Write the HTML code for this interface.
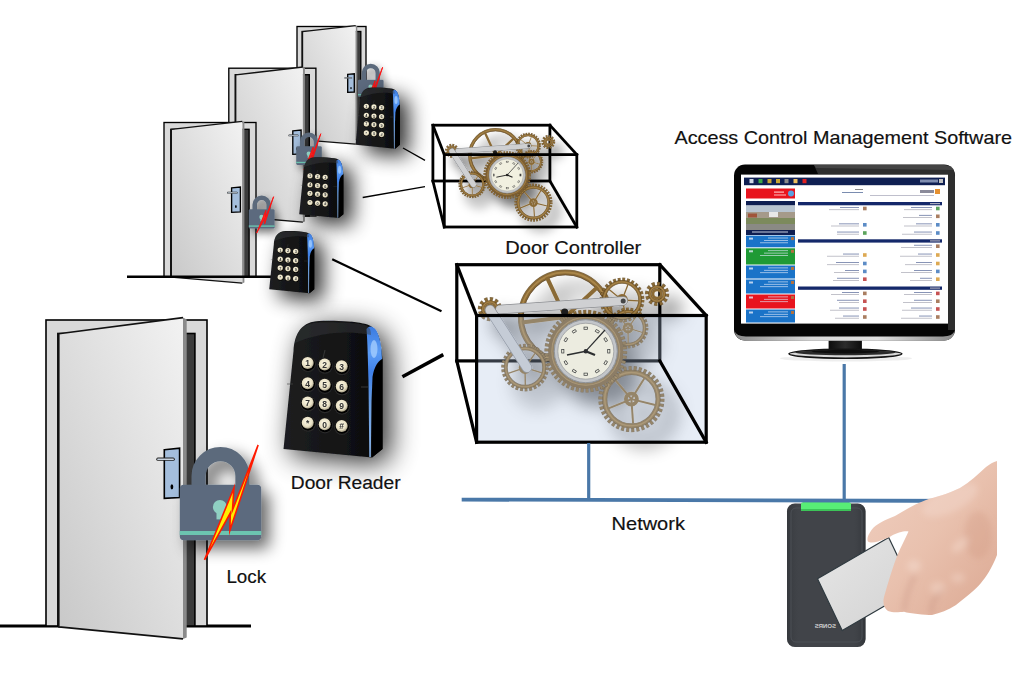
<!DOCTYPE html>
<html><head><meta charset="utf-8"><style>
html,body{margin:0;padding:0;background:#fff;}
body{width:1024px;height:684px;overflow:hidden;}
svg{display:block;}
text{font-family:"Liberation Sans",sans-serif;}
</style></head><body>
<svg width="1024" height="684" viewBox="0 0 1024 684">
<defs>
<linearGradient id="leafg" x1="0" y1="1" x2="1" y2="0">
<stop offset="0" stop-color="#c8c8c8"/><stop offset="1" stop-color="#f2f2f2"/>
</linearGradient>
<linearGradient id="blueg" x1="0" y1="0" x2="0" y2="1">
<stop offset="0" stop-color="#3a7ae0"/><stop offset="0.2" stop-color="#5b9cf5"/><stop offset="0.35" stop-color="#3f80e8"/><stop offset="0.6" stop-color="#6a9ee0"/><stop offset="1" stop-color="#8ab4e8"/>
</linearGradient>
<linearGradient id="rdrg" x1="0" y1="0" x2="1" y2="0">
<stop offset="0" stop-color="#1e1f21"/><stop offset="1" stop-color="#0b0b0c"/>
</linearGradient>
<radialGradient id="keyg" cx="0.45" cy="0.4" r="0.6">
<stop offset="0" stop-color="#fffbe8"/><stop offset="0.7" stop-color="#e8e0c4"/><stop offset="1" stop-color="#a8a088"/>
</radialGradient>
<linearGradient id="crg" x1="0" y1="0" x2="1" y2="0">
<stop offset="0" stop-color="#2c2f33" stop-opacity="0.6"/><stop offset="0.15" stop-color="#3a3d42" stop-opacity="0"/><stop offset="0.85" stop-color="#3a3d42" stop-opacity="0"/><stop offset="1" stop-color="#25282c" stop-opacity="0.6"/>
</linearGradient>
<linearGradient id="cardg" x1="0" y1="0" x2="1" y2="1">
<stop offset="0" stop-color="#e6e6e6"/><stop offset="1" stop-color="#d2d2d2"/>
</linearGradient>
<linearGradient id="skin" x1="0" y1="0" x2="1" y2="1">
<stop offset="0" stop-color="#f0cfc0"/><stop offset="0.5" stop-color="#e9c1ae"/><stop offset="1" stop-color="#dba892"/>
</linearGradient>
<linearGradient id="ching" x1="0" y1="0" x2="1" y2="0">
<stop offset="0" stop-color="#8a8a8a"/><stop offset="0.35" stop-color="#d8d8d8"/><stop offset="0.65" stop-color="#e0e0e0"/><stop offset="1" stop-color="#8a8a8a"/>
</linearGradient>
<linearGradient id="neckg" x1="0" y1="0" x2="1" y2="0">
<stop offset="0" stop-color="#0c0c0c"/><stop offset="0.5" stop-color="#2c2c2c"/><stop offset="1" stop-color="#0c0c0c"/>
</linearGradient>
<filter id="blur3" x="-20%" y="-20%" width="140%" height="140%"><feGaussianBlur stdDeviation="3"/></filter>
<filter id="shadowL" x="-50%" y="-50%" width="200%" height="200%">
<feGaussianBlur in="SourceAlpha" stdDeviation="4"/>
<feOffset dx="3" dy="4" result="b"/>
<feComponentTransfer><feFuncA type="linear" slope="0.55"/></feComponentTransfer>
<feMerge><feMergeNode/><feMergeNode in="SourceGraphic"/></feMerge>
</filter>
<filter id="shadowLB" x="-60%" y="-60%" width="220%" height="220%">
<feGaussianBlur in="SourceAlpha" stdDeviation="8"/>
<feOffset dx="8" dy="8" result="b"/>
<feComponentTransfer><feFuncA type="linear" slope="0.6"/></feComponentTransfer>
<feMerge><feMergeNode/><feMergeNode in="SourceGraphic"/></feMerge>
</filter>
<filter id="shadowR" x="-80%" y="-80%" width="260%" height="260%">
<feGaussianBlur in="SourceAlpha" stdDeviation="10"/>
<feOffset dx="9" dy="8" result="b"/>
<feComponentTransfer><feFuncA type="linear" slope="0.8"/></feComponentTransfer>
<feMerge><feMergeNode/><feMergeNode in="SourceGraphic"/></feMerge>
</filter>
<filter id="shadowRB" x="-60%" y="-60%" width="220%" height="220%">
<feGaussianBlur in="SourceAlpha" stdDeviation="14"/>
<feOffset dx="7" dy="6" result="b"/>
<feComponentTransfer><feFuncA type="linear" slope="0.85"/></feComponentTransfer>
<feMerge><feMergeNode/><feMergeNode in="SourceGraphic"/></feMerge>
</filter>
<filter id="shadowG" x="-30%" y="-30%" width="160%" height="160%">
<feGaussianBlur in="SourceAlpha" stdDeviation="9"/>
<feOffset dx="13" dy="15" result="b"/>
<feComponentTransfer><feFuncA type="linear" slope="0.55"/></feComponentTransfer>
<feMerge><feMergeNode/><feMergeNode in="SourceGraphic"/></feMerge>
</filter>
<g id="readerS">
<path d="M0.5,128 L10.5,30 C11.5,11 20,0.5 36,0 C55,-0.5 70,0.5 80,2.5 C88,3.5 94,8 96.5,18 L98.5,30 L99.5,38 L99.5,128 L89,136.6 Z" fill="url(#rdrg)"/>
<path d="M88.5,38 L99.5,38 L99.5,128 L89,136.6 Z" fill="#040404"/>
<path d="M83.5,8 C86,4 90,5 93,9 C96,14 98,22 98.5,30 L99,38 C95,40 91,46 89.5,56 L88.5,80 L87.8,136 L86.3,136 L85.5,60 C85,40 84.5,20 83.5,8 Z" fill="url(#blueg)"/>
<ellipse cx="91" cy="28" rx="3.5" ry="9" fill="#a8d0ff" opacity="0.75"/>
<path d="M12,22 C14,8 22,2 36,1.5 C55,1 70,2 80,3.5 C86,4.5 88,8 88,14 C70,10 40,10 12,22 Z" fill="#3a3b3e" opacity="0.45"/>
<line x1="42" y1="29" x2="40" y2="37" stroke="#444" stroke-width="0.7"/>
<line x1="4" y1="63" x2="10" y2="63" stroke="#444" stroke-width="0.7"/>
<line x1="78" y1="66" x2="85" y2="66" stroke="#444" stroke-width="0.7"/>
<circle cx="25" cy="43.3" r="7.8" fill="#2a2a2a"/>
<circle cx="25" cy="42.9" r="7.0" fill="#000"/>
<circle cx="24.7" cy="42.0" r="6.0" fill="url(#keyg)"/>
<text x="24.7" y="45.3" font-size="8.5" text-anchor="middle" fill="#333" font-weight="bold">1</text>
<circle cx="42" cy="44.9" r="7.8" fill="#2a2a2a"/>
<circle cx="42" cy="44.5" r="7.0" fill="#000"/>
<circle cx="41.7" cy="43.6" r="6.0" fill="url(#keyg)"/>
<text x="41.7" y="46.9" font-size="8.5" text-anchor="middle" fill="#333" font-weight="bold">2</text>
<circle cx="59" cy="46.5" r="7.8" fill="#2a2a2a"/>
<circle cx="59" cy="46.1" r="7.0" fill="#000"/>
<circle cx="58.7" cy="45.2" r="6.0" fill="url(#keyg)"/>
<text x="58.7" y="48.5" font-size="8.5" text-anchor="middle" fill="#333" font-weight="bold">3</text>
<circle cx="25" cy="63.5" r="7.8" fill="#2a2a2a"/>
<circle cx="25" cy="63.1" r="7.0" fill="#000"/>
<circle cx="24.7" cy="62.2" r="6.0" fill="url(#keyg)"/>
<text x="24.7" y="65.5" font-size="8.5" text-anchor="middle" fill="#333" font-weight="bold">4</text>
<circle cx="42" cy="65.1" r="7.8" fill="#2a2a2a"/>
<circle cx="42" cy="64.7" r="7.0" fill="#000"/>
<circle cx="41.7" cy="63.8" r="6.0" fill="url(#keyg)"/>
<text x="41.7" y="67.1" font-size="8.5" text-anchor="middle" fill="#333" font-weight="bold">5</text>
<circle cx="59" cy="66.7" r="7.8" fill="#2a2a2a"/>
<circle cx="59" cy="66.3" r="7.0" fill="#000"/>
<circle cx="58.7" cy="65.4" r="6.0" fill="url(#keyg)"/>
<text x="58.7" y="68.7" font-size="8.5" text-anchor="middle" fill="#333" font-weight="bold">6</text>
<circle cx="25" cy="82.8" r="7.8" fill="#2a2a2a"/>
<circle cx="25" cy="82.4" r="7.0" fill="#000"/>
<circle cx="24.7" cy="81.5" r="6.0" fill="url(#keyg)"/>
<text x="24.7" y="84.8" font-size="8.5" text-anchor="middle" fill="#333" font-weight="bold">7</text>
<circle cx="42" cy="84.4" r="7.8" fill="#2a2a2a"/>
<circle cx="42" cy="84.0" r="7.0" fill="#000"/>
<circle cx="41.7" cy="83.1" r="6.0" fill="url(#keyg)"/>
<text x="41.7" y="86.4" font-size="8.5" text-anchor="middle" fill="#333" font-weight="bold">8</text>
<circle cx="59" cy="86.0" r="7.8" fill="#2a2a2a"/>
<circle cx="59" cy="85.6" r="7.0" fill="#000"/>
<circle cx="58.7" cy="84.7" r="6.0" fill="url(#keyg)"/>
<text x="58.7" y="88.0" font-size="8.5" text-anchor="middle" fill="#333" font-weight="bold">9</text>
<circle cx="25" cy="103.0" r="7.8" fill="#2a2a2a"/>
<circle cx="25" cy="102.6" r="7.0" fill="#000"/>
<circle cx="24.7" cy="101.7" r="6.0" fill="url(#keyg)"/>
<text x="24.7" y="105.0" font-size="8.5" text-anchor="middle" fill="#333" font-weight="bold">*</text>
<circle cx="42" cy="104.6" r="7.8" fill="#2a2a2a"/>
<circle cx="42" cy="104.2" r="7.0" fill="#000"/>
<circle cx="41.7" cy="103.3" r="6.0" fill="url(#keyg)"/>
<text x="41.7" y="106.6" font-size="8.5" text-anchor="middle" fill="#333" font-weight="bold">0</text>
<circle cx="59" cy="106.2" r="7.8" fill="#2a2a2a"/>
<circle cx="59" cy="105.8" r="7.0" fill="#000"/>
<circle cx="58.7" cy="104.9" r="6.0" fill="url(#keyg)"/>
<text x="58.7" y="108.2" font-size="8.5" text-anchor="middle" fill="#333" font-weight="bold">#</text>
</g>
<g id="gearsS" filter="url(#shadowG)">
<circle cx="565.4" cy="317" r="44.6" fill="none" stroke="#4a3414" stroke-width="5.8" opacity="0.7"/>
<circle cx="565.4" cy="317" r="44.6" fill="none" stroke="#8a6a36" stroke-width="4.8"/>
<circle cx="565.4" cy="317" r="44.6" fill="none" stroke="#c09a58" stroke-width="1.6" opacity="0.6"/>
<circle cx="565.4" cy="317" r="42.2" fill="none" stroke="#5a4020" stroke-width="0.7" opacity="0.7"/>
<line x1="565.4" y1="317" x2="546.8" y2="277.1" stroke="#8a6a36" stroke-width="4"/>
<line x1="565.4" y1="317" x2="597.6" y2="287.0" stroke="#8a6a36" stroke-width="4"/>
<line x1="565.4" y1="317" x2="603.9" y2="338.3" stroke="#8a6a36" stroke-width="4"/>
<line x1="565.4" y1="317" x2="557.0" y2="360.2" stroke="#8a6a36" stroke-width="4"/>
<line x1="565.4" y1="317" x2="521.7" y2="322.4" stroke="#8a6a36" stroke-width="4"/>
<circle cx="628.0" cy="328.0" r="18.70" fill="none" stroke="#4a3414" stroke-width="3.40" stroke-dasharray="2.83 1.69" stroke-dashoffset="0.4" opacity="0.7"/>
<circle cx="628.0" cy="328.0" r="18.70" fill="none" stroke="#8a6a36" stroke-width="2.60" stroke-dasharray="2.03 2.49"/>
<circle cx="628.0" cy="328.0" r="16.50" fill="none" stroke="#4a3414" stroke-width="3.50" opacity="0.7"/>
<circle cx="628.0" cy="328.0" r="16.50" fill="none" stroke="#8a6a36" stroke-width="2.60"/>
<circle cx="628.0" cy="328.0" r="16.50" fill="none" stroke="#c09a58" stroke-width="0.91" opacity="0.6"/>
<line x1="628.0" y1="328.0" x2="642.5" y2="332.5" stroke="#8a6a36" stroke-width="1.20"/>
<line x1="628.0" y1="328.0" x2="628.2" y2="343.2" stroke="#8a6a36" stroke-width="1.20"/>
<line x1="628.0" y1="328.0" x2="613.6" y2="332.9" stroke="#8a6a36" stroke-width="1.20"/>
<line x1="628.0" y1="328.0" x2="618.9" y2="315.8" stroke="#8a6a36" stroke-width="1.20"/>
<line x1="628.0" y1="328.0" x2="636.8" y2="315.6" stroke="#8a6a36" stroke-width="1.20"/>
<circle cx="628.0" cy="328.0" r="4.00" fill="none" stroke="#8a6a36" stroke-width="2.80"/>
<circle cx="622.0" cy="300.0" r="20.57" fill="none" stroke="#4a3414" stroke-width="3.66" stroke-dasharray="2.88 1.74" stroke-dashoffset="0.4" opacity="0.7"/>
<circle cx="622.0" cy="300.0" r="20.57" fill="none" stroke="#8a6a36" stroke-width="2.86" stroke-dasharray="2.08 2.54"/>
<circle cx="622.0" cy="300.0" r="18.11" fill="none" stroke="#4a3414" stroke-width="3.76" opacity="0.7"/>
<circle cx="622.0" cy="300.0" r="18.11" fill="none" stroke="#8a6a36" stroke-width="2.86"/>
<circle cx="622.0" cy="300.0" r="18.11" fill="none" stroke="#c09a58" stroke-width="1.00" opacity="0.6"/>
<line x1="622.0" y1="300.0" x2="628.0" y2="284.5" stroke="#8a6a36" stroke-width="1.32"/>
<line x1="622.0" y1="300.0" x2="638.7" y2="300.9" stroke="#8a6a36" stroke-width="1.32"/>
<line x1="622.0" y1="300.0" x2="626.2" y2="316.1" stroke="#8a6a36" stroke-width="1.32"/>
<line x1="622.0" y1="300.0" x2="608.0" y2="309.0" stroke="#8a6a36" stroke-width="1.32"/>
<line x1="622.0" y1="300.0" x2="609.1" y2="289.4" stroke="#8a6a36" stroke-width="1.32"/>
<circle cx="622.0" cy="300.0" r="4.40" fill="none" stroke="#8a6a36" stroke-width="3.08"/>
<circle cx="657.1" cy="293.9" r="9.90" fill="none" stroke="#4a3414" stroke-width="4.40" stroke-dasharray="3.13 2.05" stroke-dashoffset="0.4" opacity="0.7"/>
<circle cx="657.1" cy="293.9" r="9.90" fill="none" stroke="#8a6a36" stroke-width="3.60" stroke-dasharray="2.33 2.85"/>
<circle cx="657.1" cy="293.9" r="7.20" fill="none" stroke="#4a3414" stroke-width="3.50" opacity="0.7"/>
<circle cx="657.1" cy="293.9" r="7.20" fill="none" stroke="#8a6a36" stroke-width="2.60"/>
<circle cx="657.1" cy="293.9" r="7.20" fill="none" stroke="#c09a58" stroke-width="0.91" opacity="0.6"/>
<circle cx="657.1" cy="293.9" r="4.20" fill="none" stroke="#8a6a36" stroke-width="2.94"/>
<circle cx="489.9" cy="309.1" r="9.90" fill="none" stroke="#4a3414" stroke-width="4.40" stroke-dasharray="3.13 2.05" stroke-dashoffset="0.4" opacity="0.7"/>
<circle cx="489.9" cy="309.1" r="9.90" fill="none" stroke="#8a6a36" stroke-width="3.60" stroke-dasharray="2.33 2.85"/>
<circle cx="489.9" cy="309.1" r="7.20" fill="none" stroke="#4a3414" stroke-width="3.50" opacity="0.7"/>
<circle cx="489.9" cy="309.1" r="7.20" fill="none" stroke="#8a6a36" stroke-width="2.60"/>
<circle cx="489.9" cy="309.1" r="7.20" fill="none" stroke="#c09a58" stroke-width="0.91" opacity="0.6"/>
<circle cx="489.9" cy="309.1" r="4.20" fill="none" stroke="#8a6a36" stroke-width="2.94"/>
<circle cx="525.0" cy="367.6" r="21.88" fill="none" stroke="#4a3414" stroke-width="3.84" stroke-dasharray="2.86 1.72" stroke-dashoffset="0.4" opacity="0.7"/>
<circle cx="525.0" cy="367.6" r="21.88" fill="none" stroke="#8a6a36" stroke-width="3.04" stroke-dasharray="2.06 2.52"/>
<circle cx="525.0" cy="367.6" r="19.24" fill="none" stroke="#4a3414" stroke-width="3.94" opacity="0.7"/>
<circle cx="525.0" cy="367.6" r="19.24" fill="none" stroke="#8a6a36" stroke-width="3.04"/>
<circle cx="525.0" cy="367.6" r="19.24" fill="none" stroke="#c09a58" stroke-width="1.06" opacity="0.6"/>
<line x1="525.0" y1="367.6" x2="541.9" y2="372.8" stroke="#8a6a36" stroke-width="1.40"/>
<line x1="525.0" y1="367.6" x2="525.3" y2="385.3" stroke="#8a6a36" stroke-width="1.40"/>
<line x1="525.0" y1="367.6" x2="508.2" y2="373.3" stroke="#8a6a36" stroke-width="1.40"/>
<line x1="525.0" y1="367.6" x2="514.4" y2="353.4" stroke="#8a6a36" stroke-width="1.40"/>
<line x1="525.0" y1="367.6" x2="535.2" y2="353.1" stroke="#8a6a36" stroke-width="1.40"/>
<circle cx="525.0" cy="367.6" r="4.68" fill="none" stroke="#8a6a36" stroke-width="3.28"/>
<circle cx="631.4" cy="399.1" r="30.57" fill="none" stroke="#4a3414" stroke-width="5.05" stroke-dasharray="3.07 1.98" stroke-dashoffset="0.4" opacity="0.7"/>
<circle cx="631.4" cy="399.1" r="30.57" fill="none" stroke="#8a6a36" stroke-width="4.25" stroke-dasharray="2.27 2.78"/>
<circle cx="631.4" cy="399.1" r="26.72" fill="none" stroke="#4a3414" stroke-width="5.15" opacity="0.7"/>
<circle cx="631.4" cy="399.1" r="26.72" fill="none" stroke="#8a6a36" stroke-width="4.25"/>
<circle cx="631.4" cy="399.1" r="26.72" fill="none" stroke="#c09a58" stroke-width="1.49" opacity="0.6"/>
<line x1="631.4" y1="399.1" x2="615.6" y2="380.3" stroke="#8a6a36" stroke-width="1.96"/>
<line x1="631.4" y1="399.1" x2="644.4" y2="378.2" stroke="#8a6a36" stroke-width="1.96"/>
<line x1="631.4" y1="399.1" x2="655.3" y2="405.0" stroke="#8a6a36" stroke-width="1.96"/>
<line x1="631.4" y1="399.1" x2="633.1" y2="423.6" stroke="#8a6a36" stroke-width="1.96"/>
<line x1="631.4" y1="399.1" x2="608.6" y2="408.3" stroke="#8a6a36" stroke-width="1.96"/>
<circle cx="631.4" cy="399.1" r="5.50" fill="none" stroke="#8a6a36" stroke-width="3.85"/>
<line x1="500" y1="309.5" x2="623.2" y2="300.9" stroke="#8a8c90" stroke-width="9.5" stroke-linecap="round"/>
<line x1="500" y1="309.5" x2="623.2" y2="300.9" stroke="#cfd0d2" stroke-width="8" stroke-linecap="round"/>
<line x1="490" y1="310" x2="527" y2="367.6" stroke="#8a8c90" stroke-width="10.5" stroke-linecap="round"/>
<line x1="490" y1="310" x2="527" y2="367.6" stroke="#cfd0d2" stroke-width="9" stroke-linecap="round"/>
<circle cx="623.2" cy="300.9" r="2.5" fill="#444"/>
<circle cx="564.7" cy="311.9" r="3.5" fill="#1a1a1a"/>
<circle cx="585.8" cy="351.2" r="38.75" fill="none" stroke="#4a3414" stroke-width="5.30" stroke-dasharray="2.99 1.88" stroke-dashoffset="0.4" opacity="0.7"/>
<circle cx="585.8" cy="351.2" r="38.75" fill="none" stroke="#8a6a36" stroke-width="4.50" stroke-dasharray="2.19 2.68"/>
<circle cx="585.8" cy="351.2" r="34.40" fill="none" stroke="#4a3414" stroke-width="5.90" opacity="0.7"/>
<circle cx="585.8" cy="351.2" r="34.40" fill="none" stroke="#8a6a36" stroke-width="5.00"/>
<circle cx="585.8" cy="351.2" r="34.40" fill="none" stroke="#c09a58" stroke-width="1.75" opacity="0.6"/>
<circle cx="585.8" cy="351.2" r="36" fill="none" stroke="#7d5e30" stroke-width="3"/>
<circle cx="585.8" cy="351.2" r="31.5" fill="#c4c6c8" stroke="#8e9092" stroke-width="1"/>
<circle cx="585.8" cy="351.2" r="28" fill="#f1f0e0" stroke="#9a9a9a" stroke-width="0.8"/>
<rect x="607.0" y="350.1" width="3.6" height="2.2" fill="none" stroke="#2a2a2a" stroke-width="0.7" transform="rotate(90 608.8 351.2)"/>
<rect x="603.9" y="361.6" width="3.6" height="2.2" fill="none" stroke="#2a2a2a" stroke-width="0.7" transform="rotate(120 605.7 362.7)"/>
<rect x="595.5" y="370.0" width="3.6" height="2.2" fill="none" stroke="#2a2a2a" stroke-width="0.7" transform="rotate(150 597.3 371.1)"/>
<rect x="584.0" y="373.1" width="3.6" height="2.2" fill="none" stroke="#2a2a2a" stroke-width="0.7" transform="rotate(180 585.8 374.2)"/>
<rect x="572.5" y="370.0" width="3.6" height="2.2" fill="none" stroke="#2a2a2a" stroke-width="0.7" transform="rotate(210 574.3 371.1)"/>
<rect x="564.1" y="361.6" width="3.6" height="2.2" fill="none" stroke="#2a2a2a" stroke-width="0.7" transform="rotate(240 565.9 362.7)"/>
<rect x="561.0" y="350.1" width="3.6" height="2.2" fill="none" stroke="#2a2a2a" stroke-width="0.7" transform="rotate(270 562.8 351.2)"/>
<rect x="564.1" y="338.6" width="3.6" height="2.2" fill="none" stroke="#2a2a2a" stroke-width="0.7" transform="rotate(300 565.9 339.7)"/>
<rect x="572.5" y="330.2" width="3.6" height="2.2" fill="none" stroke="#2a2a2a" stroke-width="0.7" transform="rotate(330 574.3 331.3)"/>
<rect x="584.0" y="327.1" width="3.6" height="2.2" fill="none" stroke="#2a2a2a" stroke-width="0.7" transform="rotate(360 585.8 328.2)"/>
<rect x="595.5" y="330.2" width="3.6" height="2.2" fill="none" stroke="#2a2a2a" stroke-width="0.7" transform="rotate(390 597.3 331.3)"/>
<rect x="603.9" y="338.6" width="3.6" height="2.2" fill="none" stroke="#2a2a2a" stroke-width="0.7" transform="rotate(420 605.7 339.7)"/>
<line x1="585.8" y1="351.2" x2="605" y2="330" stroke="#222" stroke-width="1.2"/>
<line x1="585.8" y1="351.2" x2="567" y2="355" stroke="#222" stroke-width="1.6"/>
<line x1="585.8" y1="351.2" x2="595" y2="355" stroke="#222" stroke-width="2.2"/>
<circle cx="585.8" cy="351.2" r="2.2" fill="#222"/>
</g>
</defs>
<rect width="1024" height="684" fill="#fff"/>
<rect x="297.0" y="26.5" width="69.0" height="113.0" fill="#d9d9d9" stroke="#000" stroke-width="1.35"/>
<rect x="302.1" y="31.5" width="58.7" height="108.0" fill="#3c3c3c" stroke="#000" stroke-width="1.35"/>
<polygon points="355.7,25.6 357.3,26.3 357.3,143.8 355.7,144.2" fill="#8a8a8a"/>
<polygon points="302.5,31.6 355.7,25.6 355.7,144.2 302.5,139.8" fill="url(#leafg)"/>
<polyline points="355.7,25.6 302.5,31.6 302.5,139.8 355.7,144.2" fill="none" stroke="#111" stroke-width="1.35" stroke-linejoin="round"/>
<polygon points="347.7,74.4 354.3,73.8 354.3,92.0 347.7,92.4" fill="#a4bedc" stroke="#000" stroke-width="1.35"/>
<line x1="345.0" y1="77.9" x2="351.5" y2="77.9" stroke="#222" stroke-width="1.37" stroke-linecap="round"/>
<line x1="345.0" y1="77.9" x2="351.5" y2="77.9" stroke="#c9d4e0" stroke-width="0.69" stroke-linecap="round"/>
<ellipse cx="351.0" cy="88.1" rx="0.7" ry="1.2" fill="#000"/>
<g filter="url(#shadowL)">
<path d="M363.9,81.8 V72.9 A6.9,6.9 0 0 1 377.7,72.9 V81.8" fill="none" stroke="#5c6b7c" stroke-width="4.4"/>
<rect x="358.0" y="79.8" width="25.6" height="17.2" rx="1.3" fill="#5b6b7e"/>
</g>
<rect x="358.0" y="94.1" width="25.6" height="1.2" fill="#6cc4b0"/>
<circle cx="370.6" cy="86.7" r="2.2" fill="#8fd0c2"/>
<rect x="369.5" y="86.7" width="2.2" height="3.8" fill="#8fd0c2"/>
<polygon points="382.6,67.3 373.8,94.2 373.9,88.7 365.8,103.4 375.0,80.8 374.6,87.8" fill="#ff2020" stroke="#ff1010" stroke-width="0.90" stroke-linejoin="miter" stroke-miterlimit="10"/>
<rect x="228.8" y="68.2" width="87.1" height="147.8" fill="#d9d9d9" stroke="#000" stroke-width="1.35"/>
<rect x="235.2" y="74.7" width="74.1" height="141.3" fill="#3c3c3c" stroke="#000" stroke-width="1.35"/>
<polygon points="302.9,67.0 304.9,67.9 304.9,221.6 302.9,222.2" fill="#8a8a8a"/>
<polygon points="235.7,74.9 302.9,67.0 302.9,222.2 235.7,216.4" fill="url(#leafg)"/>
<polyline points="302.9,67.0 235.7,74.9 235.7,216.4 302.9,222.2" fill="none" stroke="#111" stroke-width="1.35" stroke-linejoin="round"/>
<polygon points="292.8,130.9 301.1,130.1 301.1,153.9 292.8,154.4" fill="#a4bedc" stroke="#000" stroke-width="1.35"/>
<line x1="289.3" y1="135.4" x2="297.6" y2="135.4" stroke="#222" stroke-width="1.73" stroke-linecap="round"/>
<line x1="289.3" y1="135.4" x2="297.6" y2="135.4" stroke="#c9d4e0" stroke-width="0.87" stroke-linecap="round"/>
<ellipse cx="296.9" cy="148.8" rx="0.8" ry="1.4" fill="#000"/>
<g filter="url(#shadowL)">
<path d="M302.1,148.2 V141.7 A6.9,6.9 0 0 1 315.9,141.7 V148.2" fill="none" stroke="#5c6b7c" stroke-width="4.4"/>
<rect x="296.2" y="146.2" width="25.6" height="18.7" rx="1.3" fill="#5b6b7e"/>
</g>
<rect x="296.2" y="161.8" width="25.6" height="1.3" fill="#6cc4b0"/>
<circle cx="308.8" cy="153.7" r="2.2" fill="#8fd0c2"/>
<rect x="307.7" y="153.7" width="2.2" height="4.2" fill="#8fd0c2"/>
<polygon points="320.8,133.7 312.0,160.6 312.1,155.1 304.0,169.8 313.2,147.2 312.8,154.2" fill="#ff2020" stroke="#ff1010" stroke-width="0.90" stroke-linejoin="miter" stroke-miterlimit="10"/>
<g filter="url(#shadowR)"><use href="#readerS" transform="translate(355.3,87.5) scale(0.448)"/></g>
<rect x="164.0" y="122.5" width="92.0" height="154.2" fill="#d9d9d9" stroke="#000" stroke-width="1.35"/>
<rect x="170.8" y="129.3" width="78.3" height="147.4" fill="#3c3c3c" stroke="#000" stroke-width="1.35"/>
<polygon points="242.3,121.3 244.4,122.2 244.4,282.6 242.3,283.2" fill="#8a8a8a"/>
<polygon points="171.3,129.4 242.3,121.3 242.3,283.2 171.3,277.2" fill="url(#leafg)"/>
<polyline points="242.3,121.3 171.3,129.4 171.3,277.2 242.3,283.2" fill="none" stroke="#111" stroke-width="1.35" stroke-linejoin="round"/>
<polygon points="231.6,187.9 240.4,187.1 240.4,211.9 231.6,212.4" fill="#a4bedc" stroke="#000" stroke-width="1.35"/>
<line x1="227.9" y1="192.7" x2="236.7" y2="192.7" stroke="#222" stroke-width="1.83" stroke-linecap="round"/>
<line x1="227.9" y1="192.7" x2="236.7" y2="192.7" stroke="#c9d4e0" stroke-width="0.91" stroke-linecap="round"/>
<ellipse cx="235.9" cy="206.5" rx="0.8" ry="1.5" fill="#000"/>
<line x1="127" y1="276.7" x2="272" y2="276.7" stroke="#000" stroke-width="2.4"/>
<g filter="url(#shadowL)">
<path d="M254.7,211.3 V204.8 A7.0,7.0 0 0 1 268.7,204.8 V211.3" fill="none" stroke="#5c6b7c" stroke-width="4.5"/>
<rect x="248.8" y="209.3" width="25.8" height="19.3" rx="1.3" fill="#5b6b7e"/>
</g>
<rect x="248.8" y="225.4" width="25.8" height="1.4" fill="#6cc4b0"/>
<circle cx="261.5" cy="217.0" r="2.2" fill="#8fd0c2"/>
<rect x="260.4" y="217.0" width="2.2" height="4.3" fill="#8fd0c2"/>
<polygon points="273.6,196.7 264.7,223.8 264.8,218.3 256.6,233.1 265.9,210.3 265.5,217.3" fill="#ff2020" stroke="#ff1010" stroke-width="0.90" stroke-linejoin="miter" stroke-miterlimit="10"/>
<g filter="url(#shadowR)"><use href="#readerS" transform="translate(299,157.2) scale(0.446)"/></g>
<g filter="url(#shadowR)"><use href="#readerS" transform="translate(269,231) scale(0.455)"/></g>
<line x1="0" y1="626" x2="251" y2="626" stroke="#000" stroke-width="3"/>
<rect x="46.0" y="320.0" width="161.0" height="306.0" fill="#d9d9d9" stroke="#000" stroke-width="1.60"/>
<rect x="57.9" y="333.5" width="137.0" height="292.5" fill="#3c3c3c" stroke="#000" stroke-width="1.60"/>
<polygon points="183.0,317.6 186.7,319.4 186.7,637.6 183.0,638.9" fill="#8a8a8a"/>
<polygon points="58.8,333.8 183.0,317.6 183.0,638.9 58.8,626.9" fill="url(#leafg)"/>
<polyline points="183.0,317.6 58.8,333.8 58.8,626.9 183.0,638.9" fill="none" stroke="#111" stroke-width="1.60" stroke-linejoin="round"/>
<polygon points="164.3,449.7 179.6,448.2 179.6,497.5 164.3,498.4" fill="#a4bedc" stroke="#000" stroke-width="1.60"/>
<line x1="157.9" y1="459.2" x2="173.2" y2="459.2" stroke="#222" stroke-width="3.20" stroke-linecap="round"/>
<line x1="157.9" y1="459.2" x2="173.2" y2="459.2" stroke="#c9d4e0" stroke-width="1.60" stroke-linecap="round"/>
<ellipse cx="171.9" cy="486.8" rx="1.4" ry="2.6" fill="#000"/>
<g filter="url(#shadowLB)">
<path d="M198.6,486.7 V476.0 A21.9,21.9 0 0 1 242.4,476.0 V486.7" fill="none" stroke="#5c6b7c" stroke-width="14.1"/>
<rect x="179.8" y="484.7" width="81.4" height="55.6" rx="4.1" fill="#5b6b7e"/>
</g>
<rect x="179.8" y="531.0" width="81.4" height="4.0" fill="#6cc4b0"/>
<circle cx="219.9" cy="507.0" r="7.0" fill="#8fd0c2"/>
<rect x="216.5" y="507.0" width="6.8" height="12.4" fill="#8fd0c2"/>
<polygon points="258.1,445.1 229.9,530.5 230.3,513.0 204.5,559.8 233.9,488.0 232.5,510.0" fill="#ffee00" stroke="#ff1a00" stroke-width="1.6" stroke-linejoin="miter" stroke-miterlimit="10"/>
<g filter="url(#shadowRB)"><use href="#readerS" transform="translate(283,321)"/></g>
<line x1="403" y1="148" x2="425" y2="160.4" stroke="#000" stroke-width="1.3"/>
<line x1="362.7" y1="197.5" x2="425" y2="186.6" stroke="#000" stroke-width="1.3"/>
<line x1="332.2" y1="259.2" x2="441.5" y2="311.3" stroke="#000" stroke-width="2.2"/>
<line x1="402.4" y1="376.8" x2="443.3" y2="354.6" stroke="#000" stroke-width="3.5"/>
<rect x="432.9" y="125.2" width="117.0" height="55.8" stroke="#000" stroke-width="2.8" fill="none"/>
<g transform="translate(432.9,125.2) scale(0.576) translate(-456.8,-264.7)"><use href="#gearsS"/></g>
<rect x="444.3" y="154.6" width="132.49999999999994" height="72.4" stroke="#000" stroke-width="2.8" fill="none" stroke-linejoin="miter"/>
<line x1="432.9" y1="125.2" x2="444.3" y2="154.6" stroke="#000" stroke-width="2.8" stroke-linecap="square"/>
<line x1="549.9" y1="125.2" x2="576.8" y2="154.6" stroke="#000" stroke-width="2.8" stroke-linecap="square"/>
<line x1="432.9" y1="181" x2="444.3" y2="227" stroke="#000" stroke-width="2.8" stroke-linecap="square"/>
<line x1="549.9" y1="181" x2="576.8" y2="227" stroke="#000" stroke-width="2.8" stroke-linecap="square"/>
<rect x="456.8" y="264.7" width="202.99999999999994" height="96.19999999999999" stroke="#000" stroke-width="3.2" fill="none"/>
<use href="#gearsS"/>
<rect x="476.6" y="315.5" width="229.60000000000002" height="126.69999999999999" fill="rgba(175,196,226,0.3)"/>
<rect x="476.6" y="315.5" width="229.60000000000002" height="126.69999999999999" stroke="#000" stroke-width="3.2" fill="none" stroke-linejoin="miter"/>
<line x1="456.8" y1="264.7" x2="476.6" y2="315.5" stroke="#000" stroke-width="3.2" stroke-linecap="square"/>
<line x1="659.8" y1="264.7" x2="706.2" y2="315.5" stroke="#000" stroke-width="3.2" stroke-linecap="square"/>
<line x1="456.8" y1="360.9" x2="476.6" y2="442.2" stroke="#000" stroke-width="3.2" stroke-linecap="square"/>
<line x1="659.8" y1="360.9" x2="706.2" y2="442.2" stroke="#000" stroke-width="3.2" stroke-linecap="square"/>
<g opacity="0.75"><circle cx="585.8" cy="351.2" r="31.5" fill="#c4c6c8" stroke="#8e9092" stroke-width="1"/>
<circle cx="585.8" cy="351.2" r="28" fill="#f1f0e0" stroke="#9a9a9a" stroke-width="0.8"/>
<rect x="607.0" y="350.1" width="3.6" height="2.2" fill="none" stroke="#2a2a2a" stroke-width="0.7" transform="rotate(90 608.8 351.2)"/>
<rect x="603.9" y="361.6" width="3.6" height="2.2" fill="none" stroke="#2a2a2a" stroke-width="0.7" transform="rotate(120 605.7 362.7)"/>
<rect x="595.5" y="370.0" width="3.6" height="2.2" fill="none" stroke="#2a2a2a" stroke-width="0.7" transform="rotate(150 597.3 371.1)"/>
<rect x="584.0" y="373.1" width="3.6" height="2.2" fill="none" stroke="#2a2a2a" stroke-width="0.7" transform="rotate(180 585.8 374.2)"/>
<rect x="572.5" y="370.0" width="3.6" height="2.2" fill="none" stroke="#2a2a2a" stroke-width="0.7" transform="rotate(210 574.3 371.1)"/>
<rect x="564.1" y="361.6" width="3.6" height="2.2" fill="none" stroke="#2a2a2a" stroke-width="0.7" transform="rotate(240 565.9 362.7)"/>
<rect x="561.0" y="350.1" width="3.6" height="2.2" fill="none" stroke="#2a2a2a" stroke-width="0.7" transform="rotate(270 562.8 351.2)"/>
<rect x="564.1" y="338.6" width="3.6" height="2.2" fill="none" stroke="#2a2a2a" stroke-width="0.7" transform="rotate(300 565.9 339.7)"/>
<rect x="572.5" y="330.2" width="3.6" height="2.2" fill="none" stroke="#2a2a2a" stroke-width="0.7" transform="rotate(330 574.3 331.3)"/>
<rect x="584.0" y="327.1" width="3.6" height="2.2" fill="none" stroke="#2a2a2a" stroke-width="0.7" transform="rotate(360 585.8 328.2)"/>
<rect x="595.5" y="330.2" width="3.6" height="2.2" fill="none" stroke="#2a2a2a" stroke-width="0.7" transform="rotate(390 597.3 331.3)"/>
<rect x="603.9" y="338.6" width="3.6" height="2.2" fill="none" stroke="#2a2a2a" stroke-width="0.7" transform="rotate(420 605.7 339.7)"/>
<line x1="585.8" y1="351.2" x2="605" y2="330" stroke="#222" stroke-width="1.2"/>
<line x1="585.8" y1="351.2" x2="567" y2="355" stroke="#222" stroke-width="1.6"/>
<line x1="585.8" y1="351.2" x2="595" y2="355" stroke="#222" stroke-width="2.2"/>
<circle cx="585.8" cy="351.2" r="2.2" fill="#222"/></g>
<ellipse cx="846" cy="358.5" rx="66" ry="3" fill="#ececec" opacity="0.9"/>
<path d="M828.6,338 L861.9,338 L861.9,351 L828.6,351 Z" fill="url(#neckg)"/>
<ellipse cx="845.4" cy="353.8" rx="56.4" ry="4.4" fill="#d8d8d8" stroke="#151515" stroke-width="1.6"/>
<ellipse cx="845.4" cy="352.6" rx="50" ry="2.6" fill="#2a2a2a"/>
<ellipse cx="845.4" cy="351.6" rx="34" ry="1.8" fill="#0e0e0e"/>
<rect x="734" y="164.5" width="221" height="176" rx="11" fill="#050505"/>
<path d="M814,165 L944,165 Q955,166 955,177 L955,330 L948,330 L948,174 L818,174 Z" fill="#2e2e2e"/>
<path d="M814,165 L944,165 Q952,165.5 954,170 L816,168 Z" fill="#4a4a4a" opacity="0.8"/>
<path d="M734.5,331 Q736,340.5 746,340.8 L943,340.8 Q954,340.5 954.5,331 Q953,336 943,336.5 L746,336.5 Q736,336 734.5,331 Z" fill="url(#ching)"/>
<rect x="741" y="174.6" width="207" height="149" fill="#fff"/>
<rect x="744" y="177.6" width="201" height="7.6" fill="#0f1f52"/>
<rect x="749.5" y="179" width="4" height="4.2" fill="#cfd8e6"/>
<rect x="758.5" y="179" width="4" height="4.2" fill="#3aa845"/>
<rect x="767.5" y="179" width="4" height="4.2" fill="#c9a632"/>
<rect x="776" y="179" width="4" height="4.2" fill="#c9a632"/>
<rect x="784.5" y="179" width="4" height="4.2" fill="#8a8a8a"/>
<rect x="793.5" y="179" width="4" height="4.2" fill="#f0c060"/>
<rect x="802.5" y="179" width="4" height="4.2" fill="#e02020"/>
<rect x="920" y="179.5" width="18" height="3" fill="#7f8db0"/>
<rect x="939" y="179" width="4" height="4" fill="#c0c0c0"/>
<rect x="746" y="188.5" width="49" height="10" fill="#e8141e"/>
<circle cx="791" cy="193.5" r="3" fill="#5aa0e0"/>
<rect x="774" y="191.5" width="10" height="1.2" fill="#fbb"/><rect x="774" y="194.5" width="12" height="1" fill="#fbb"/>
<rect x="746" y="201" width="49" height="4.5" fill="#0f1f52"/>
<rect x="746" y="205.5" width="49" height="7" fill="#b8c4d0"/>
<rect x="746" y="212" width="49" height="6" fill="#a59a8a"/>
<rect x="748" y="213.5" width="9" height="4" fill="#a0553a"/>
<rect x="769" y="212" width="9" height="5" fill="#e8e8e8"/>
<rect x="746" y="218" width="49" height="6" fill="#7c8a5c"/>
<rect x="746" y="224" width="49" height="6" fill="#8a8a84"/>
<rect x="746" y="230" width="49" height="5" fill="#0f1f52"/>
<rect x="752" y="231.5" width="36" height="1" fill="#c8d0e0"/>
<rect x="746" y="235.6" width="49" height="11.7" fill="#1a73c8"/>
<rect x="791" y="237.1" width="3" height="3" fill="#b07040"/>
<rect x="768" y="237.6" width="20" height="0.8" fill="#e0e8f8" opacity="0.8"/>
<rect x="764" y="240.0" width="24" height="0.8" fill="#e0e8f8" opacity="0.8"/>
<rect x="760" y="242.4" width="28" height="0.8" fill="#e0e8f8" opacity="0.8"/>
<rect x="749" y="237.6" width="4" height="2" fill="#e0e8f8" opacity="0.8"/>
<rect x="746" y="248.3" width="49" height="16.2" fill="#1f9a35"/>
<rect x="791" y="249.8" width="3" height="3" fill="#b07040"/>
<rect x="768" y="250.3" width="20" height="0.8" fill="#e0e8f8" opacity="0.8"/>
<rect x="764" y="252.7" width="24" height="0.8" fill="#e0e8f8" opacity="0.8"/>
<rect x="760" y="255.1" width="28" height="0.8" fill="#e0e8f8" opacity="0.8"/>
<rect x="749" y="250.3" width="4" height="2" fill="#e0e8f8" opacity="0.8"/>
<rect x="746" y="265.5" width="49" height="13.0" fill="#1a73c8"/>
<rect x="791" y="267.0" width="3" height="3" fill="#b07040"/>
<rect x="768" y="267.5" width="20" height="0.8" fill="#e0e8f8" opacity="0.8"/>
<rect x="764" y="269.9" width="24" height="0.8" fill="#e0e8f8" opacity="0.8"/>
<rect x="760" y="272.3" width="28" height="0.8" fill="#e0e8f8" opacity="0.8"/>
<rect x="749" y="267.5" width="4" height="2" fill="#e0e8f8" opacity="0.8"/>
<rect x="746" y="279.5" width="49" height="14.0" fill="#1a73c8"/>
<rect x="791" y="281.0" width="3" height="3" fill="#b07040"/>
<rect x="768" y="281.5" width="20" height="0.8" fill="#e0e8f8" opacity="0.8"/>
<rect x="764" y="283.9" width="24" height="0.8" fill="#e0e8f8" opacity="0.8"/>
<rect x="760" y="286.3" width="28" height="0.8" fill="#e0e8f8" opacity="0.8"/>
<rect x="749" y="281.5" width="4" height="2" fill="#e0e8f8" opacity="0.8"/>
<rect x="746" y="294.5" width="49" height="14.0" fill="#e8141e"/>
<rect x="791" y="296.0" width="3" height="3" fill="#b07040"/>
<rect x="768" y="296.5" width="20" height="0.8" fill="#e0e8f8" opacity="0.8"/>
<rect x="764" y="298.9" width="24" height="0.8" fill="#e0e8f8" opacity="0.8"/>
<rect x="760" y="301.3" width="28" height="0.8" fill="#e0e8f8" opacity="0.8"/>
<rect x="749" y="296.5" width="4" height="2" fill="#e0e8f8" opacity="0.8"/>
<rect x="746" y="309.5" width="49" height="13.0" fill="#1a73c8"/>
<rect x="791" y="311.0" width="3" height="3" fill="#b07040"/>
<rect x="768" y="311.5" width="20" height="0.8" fill="#e0e8f8" opacity="0.8"/>
<rect x="764" y="313.9" width="24" height="0.8" fill="#e0e8f8" opacity="0.8"/>
<rect x="760" y="316.3" width="28" height="0.8" fill="#e0e8f8" opacity="0.8"/>
<rect x="749" y="311.5" width="4" height="2" fill="#e0e8f8" opacity="0.8"/>
<rect x="935" y="189" width="5" height="5" fill="#e59030"/>
<rect x="920" y="190" width="14" height="3" fill="#8a8a9a"/>
<rect x="870" y="195" width="64" height="0.8" fill="#b0b0c0"/>
<rect x="855" y="189" width="8" height="1" fill="#888"/><rect x="842" y="192" width="21" height="1" fill="#7a8cb0"/>
<rect x="798" y="202" width="144" height="3.3000000000000114" fill="#14286a"/>
<rect x="930" y="203" width="10" height="1.2" fill="#aab"/>
<rect x="798" y="239.3" width="144" height="3.299999999999983" fill="#14286a"/>
<rect x="930" y="240.3" width="10" height="1.2" fill="#aab"/>
<rect x="798" y="286.5" width="144" height="3.3000000000000114" fill="#14286a"/>
<rect x="930" y="287.5" width="10" height="1.2" fill="#aab"/>
<rect x="936" y="206.7" width="3.6" height="3.6" fill="#4a9a4a" opacity="0.9"/>
<rect x="911" y="207.1" width="21" height="0.9" fill="#5a6a9a" opacity="0.8"/>
<rect x="904" y="209.3" width="28" height="0.8" fill="#a0a0ac" opacity="0.8"/>
<rect x="863" y="206.7" width="3.6" height="3.6" fill="#a07050" opacity="0.9"/>
<rect x="840" y="207.1" width="19" height="0.9" fill="#5a6a9a" opacity="0.8"/>
<rect x="829" y="209.3" width="30" height="0.8" fill="#a0a0ac" opacity="0.8"/>
<rect x="936" y="214.5" width="3.6" height="3.6" fill="#a07050" opacity="0.9"/>
<rect x="919" y="214.9" width="13" height="0.9" fill="#5a6a9a" opacity="0.8"/>
<rect x="903" y="217.1" width="29" height="0.8" fill="#a0a0ac" opacity="0.8"/>
<rect x="936" y="223.0" width="3.6" height="3.6" fill="#4a80c0" opacity="0.9"/>
<rect x="916" y="223.4" width="16" height="0.9" fill="#5a6a9a" opacity="0.8"/>
<rect x="904" y="225.6" width="28" height="0.8" fill="#a0a0ac" opacity="0.8"/>
<rect x="863" y="223.0" width="3.6" height="3.6" fill="#4a80c0" opacity="0.9"/>
<rect x="839" y="223.4" width="20" height="0.9" fill="#5a6a9a" opacity="0.8"/>
<rect x="831" y="225.6" width="28" height="0.8" fill="#a0a0ac" opacity="0.8"/>
<rect x="936" y="231.2" width="3.6" height="3.6" fill="#4a80c0" opacity="0.9"/>
<rect x="914" y="231.6" width="18" height="0.9" fill="#5a6a9a" opacity="0.8"/>
<rect x="902" y="233.8" width="30" height="0.8" fill="#a0a0ac" opacity="0.8"/>
<rect x="863" y="231.2" width="3.6" height="3.6" fill="#4a9a4a" opacity="0.9"/>
<rect x="837" y="231.6" width="22" height="0.9" fill="#5a6a9a" opacity="0.8"/>
<rect x="837" y="233.8" width="22" height="0.8" fill="#a0a0ac" opacity="0.8"/>
<rect x="936" y="244.4" width="3.6" height="3.6" fill="#a07050" opacity="0.9"/>
<rect x="914" y="244.8" width="18" height="0.9" fill="#5a6a9a" opacity="0.8"/>
<rect x="901" y="247.0" width="31" height="0.8" fill="#a0a0ac" opacity="0.8"/>
<rect x="936" y="253.2" width="3.6" height="3.6" fill="#d9a040" opacity="0.9"/>
<rect x="918" y="253.6" width="14" height="0.9" fill="#5a6a9a" opacity="0.8"/>
<rect x="900" y="255.8" width="32" height="0.8" fill="#a0a0ac" opacity="0.8"/>
<rect x="863" y="253.2" width="3.6" height="3.6" fill="#d9a040" opacity="0.9"/>
<rect x="843" y="253.6" width="16" height="0.9" fill="#5a6a9a" opacity="0.8"/>
<rect x="827" y="255.8" width="32" height="0.8" fill="#a0a0ac" opacity="0.8"/>
<rect x="936" y="261.7" width="3.6" height="3.6" fill="#d9a040" opacity="0.9"/>
<rect x="916" y="262.1" width="16" height="0.9" fill="#5a6a9a" opacity="0.8"/>
<rect x="905" y="264.3" width="27" height="0.8" fill="#a0a0ac" opacity="0.8"/>
<rect x="863" y="261.7" width="3.6" height="3.6" fill="#4a80c0" opacity="0.9"/>
<rect x="836" y="262.1" width="23" height="0.9" fill="#5a6a9a" opacity="0.8"/>
<rect x="827" y="264.3" width="32" height="0.8" fill="#a0a0ac" opacity="0.8"/>
<rect x="936" y="269.6" width="3.6" height="3.6" fill="#4a80c0" opacity="0.9"/>
<rect x="914" y="270.0" width="18" height="0.9" fill="#5a6a9a" opacity="0.8"/>
<rect x="901" y="272.2" width="31" height="0.8" fill="#a0a0ac" opacity="0.8"/>
<rect x="863" y="269.6" width="3.6" height="3.6" fill="#4a80c0" opacity="0.9"/>
<rect x="845" y="270.0" width="14" height="0.9" fill="#5a6a9a" opacity="0.8"/>
<rect x="834" y="272.2" width="25" height="0.8" fill="#a0a0ac" opacity="0.8"/>
<rect x="936" y="277.4" width="3.6" height="3.6" fill="#d9a040" opacity="0.9"/>
<rect x="920" y="277.8" width="12" height="0.9" fill="#5a6a9a" opacity="0.8"/>
<rect x="910" y="280.0" width="22" height="0.8" fill="#a0a0ac" opacity="0.8"/>
<rect x="863" y="277.4" width="3.6" height="3.6" fill="#c04040" opacity="0.9"/>
<rect x="837" y="277.8" width="22" height="0.9" fill="#5a6a9a" opacity="0.8"/>
<rect x="833" y="280.0" width="26" height="0.8" fill="#a0a0ac" opacity="0.8"/>
<rect x="936" y="291.6" width="3.6" height="3.6" fill="#c04040" opacity="0.9"/>
<rect x="914" y="292.0" width="18" height="0.9" fill="#5a6a9a" opacity="0.8"/>
<rect x="904" y="294.2" width="28" height="0.8" fill="#a0a0ac" opacity="0.8"/>
<rect x="863" y="291.6" width="3.6" height="3.6" fill="#a07050" opacity="0.9"/>
<rect x="842" y="292.0" width="17" height="0.9" fill="#5a6a9a" opacity="0.8"/>
<rect x="831" y="294.2" width="28" height="0.8" fill="#a0a0ac" opacity="0.8"/>
<rect x="936" y="299.4" width="3.6" height="3.6" fill="#a07050" opacity="0.9"/>
<rect x="914" y="299.8" width="18" height="0.9" fill="#5a6a9a" opacity="0.8"/>
<rect x="903" y="302.0" width="29" height="0.8" fill="#a0a0ac" opacity="0.8"/>
<rect x="863" y="299.4" width="3.6" height="3.6" fill="#c04040" opacity="0.9"/>
<rect x="837" y="299.8" width="22" height="0.9" fill="#5a6a9a" opacity="0.8"/>
<rect x="839" y="302.0" width="20" height="0.8" fill="#a0a0ac" opacity="0.8"/>
<rect x="936" y="307.2" width="3.6" height="3.6" fill="#c04040" opacity="0.9"/>
<rect x="911" y="307.6" width="21" height="0.9" fill="#5a6a9a" opacity="0.8"/>
<rect x="902" y="309.8" width="30" height="0.8" fill="#a0a0ac" opacity="0.8"/>
<rect x="863" y="307.2" width="3.6" height="3.6" fill="#c04040" opacity="0.9"/>
<rect x="839" y="307.6" width="20" height="0.9" fill="#5a6a9a" opacity="0.8"/>
<rect x="830" y="309.8" width="29" height="0.8" fill="#a0a0ac" opacity="0.8"/>
<rect x="936" y="315.2" width="3.6" height="3.6" fill="#a07050" opacity="0.9"/>
<rect x="919" y="315.6" width="13" height="0.9" fill="#5a6a9a" opacity="0.8"/>
<rect x="901" y="317.8" width="31" height="0.8" fill="#a0a0ac" opacity="0.8"/>
<rect x="863" y="315.2" width="3.6" height="3.6" fill="#a07050" opacity="0.9"/>
<rect x="843" y="315.6" width="16" height="0.9" fill="#5a6a9a" opacity="0.8"/>
<rect x="835" y="317.8" width="24" height="0.8" fill="#a0a0ac" opacity="0.8"/>
<rect x="787" y="503.5" width="78.5" height="143.5" rx="8" fill="#414449"/>
<rect x="787" y="503.5" width="78.5" height="143.5" rx="8" fill="url(#crg)"/>
<rect x="791" y="508" width="71" height="134" rx="5" fill="none" stroke="#4c5056" stroke-width="1"/>
<path d="M801,511 L801,504 Q801,502 803.5,502 L848.5,502 Q851,502 851,504 L851,511 Z" fill="#58ee76"/>
<rect x="801" y="509" width="50" height="2" fill="#3cc458"/>
<text x="0" y="0" font-size="6" fill="#cfcfcf" transform="translate(836,628) scale(-1,1)" font-weight="bold">SONRS</text>
<line x1="588.7" y1="443" x2="588.7" y2="500" stroke="#4a78a8" stroke-width="3.2"/>
<line x1="844.2" y1="364" x2="844.2" y2="500" stroke="#4a78a8" stroke-width="3.2"/>
<line x1="461.7" y1="499.6" x2="990" y2="501" stroke="#4a78a8" stroke-width="3.8"/>
<polygon points="817.5,578.8 888.7,537.6 913.4,589.3 842.2,630.5" fill="url(#cardg)" stroke="#2f3a40" stroke-width="1.2" stroke-linejoin="round"/>
<path d="M997,461 C993,462 990,464 986,467 C978,474 970,482 960,488 C948,494 935,497 926,500 C915,504 905,510 895,516 C885,520 876,524 871.5,530 C868,535 866.5,539 868,541.5 C870,543 874,542.5 878,541.5 L888.7,537.6 C892,535 898,532.5 903,531.5 C905.5,531 907.5,531 908.5,531.5 C905,539 901,547 897.9,554 C893,566 888,583 884,597 C882.5,603 884,608 888,611 C893,613 900,612 904,611.7 C910,613.5 925,615 932,615 C940,613 948,610 956,605 C965,598 975,590 981,583 C986,577 992,568 997,555 Z" fill="url(#skin)"/>
<clipPath id="hclip"><path d="M997,461 C993,462 990,464 986,467 C978,474 970,482 960,488 C948,494 935,497 926,500 C915,504 905,510 895,516 C885,520 876,524 871.5,530 C868,535 866.5,539 868,541.5 C870,543 874,542.5 878,541.5 L888.7,537.6 C892,535 898,532.5 903,531.5 C905.5,531 907.5,531 908.5,531.5 C905,539 901,547 897.9,554 C893,566 888,583 884,597 C882.5,603 884,608 888,611 C893,613 900,612 904,611.7 C910,613.5 925,615 932,615 C940,613 948,610 956,605 C965,598 975,590 981,583 C986,577 992,568 997,555 Z"/></clipPath>
<g clip-path="url(#hclip)" filter="url(#blur3)">
<ellipse cx="978" cy="535" rx="14" ry="24" fill="#c98a74" opacity="0.22"/>
<ellipse cx="950" cy="500" rx="30" ry="12" fill="#f6e0d6" opacity="0.35" transform="rotate(-25 950 500)"/>
<path d="M904,611 C905,598 910,585 915,575" fill="none" stroke="#b88070" stroke-width="2.5" opacity="0.5"/>
<path d="M932,614 C930,605 935,595 945,588" fill="none" stroke="#b88070" stroke-width="2.5" opacity="0.5"/>
<ellipse cx="914" cy="566" rx="7" ry="6" fill="#f8e4da" opacity="0.4"/>
<ellipse cx="938" cy="588" rx="8" ry="6" fill="#f8e4da" opacity="0.35"/>
<ellipse cx="958" cy="578" rx="7" ry="5" fill="#f8e4da" opacity="0.3"/>
<ellipse cx="960" cy="545" rx="10" ry="5" fill="#f8e4da" opacity="0.35" transform="rotate(-40 960 545)"/>
</g>
<text x="674.5" y="143.7" font-size="18.5" fill="#111" stroke="#111" stroke-width="0.18" textLength="337.5" lengthAdjust="spacingAndGlyphs">Access Control Management Software</text>
<text x="505.3" y="254" font-size="18.5" fill="#111" stroke="#111" stroke-width="0.18" textLength="136" lengthAdjust="spacingAndGlyphs">Door Controller</text>
<text x="290.8" y="489.1" font-size="18" fill="#111" stroke="#111" stroke-width="0.18" textLength="109.8" lengthAdjust="spacingAndGlyphs">Door Reader</text>
<text x="226.4" y="582.5" font-size="18.5" fill="#111" stroke="#111" stroke-width="0.18" textLength="39.7" lengthAdjust="spacingAndGlyphs">Lock</text>
<text x="611.6" y="530.1" font-size="18.5" fill="#111" stroke="#111" stroke-width="0.18" textLength="73.3" lengthAdjust="spacingAndGlyphs">Network</text>
</svg>
</body></html>
